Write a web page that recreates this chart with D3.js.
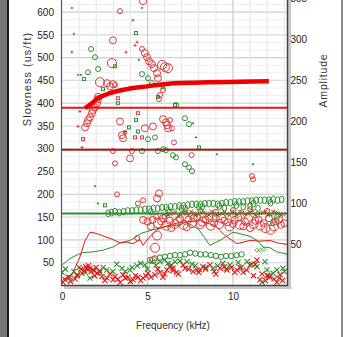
<!DOCTYPE html>
<html><head><meta charset="utf-8">
<script src="https://cdn.jsdelivr.net/npm/d3@7"></script>
<style>html,body{margin:0;padding:0;background:#fff;overflow:hidden}</style>
</head><body><svg id="c" width="343" height="337"></svg>
<script>
// ---------- DATA ----------
const xTicks = [0, 5, 10];
const slownessTicks = [50,100,150,200,250,300,350,400,450,500,550,600];
const amplitudeTicks = [50,100,150,200,250,300,350];

// model dispersion curve (kHz, us/ft)
const modelCurve = [[1.35,389],[1.75,400],[2.1,411],[2.8,422],[3.8,431],[5.0,437],[6.6,444],[8.65,446],[10.4,447],[12.1,448]];
// reference slowness lines (us/ft)
const redLine = 390;
const darkRedLine = 298;
const greenLine = 158;

// slowness picks: [kHz, us/ft, weight]
const redCirclesSlow = [[3.39,602,1],[4.74,624,2],[2.98,538,2],[2.92,488,3],
 [4.68,519,1],[4.85,510,2],[4.97,501,2],[5.09,492,2],[5.26,486,2],[5.38,477,2],[5.56,466,2],[5.61,455,2],
 [5.85,484,3],[6.02,479,3],[6.20,477,3],
 [2.22,446,3],[2.63,444,2],[2.81,437,2],[2.98,442,2],[3.10,440,1],[2.11,414,2],
 [5.91,429,1],[5.73,418,1],[5.67,409,1],
 [1.35,347,2],[1.46,356,2],[1.52,363,2],[1.64,369,2],[1.75,378,2],[1.81,385,2],[1.93,391,2],[2.05,400,2],[2.11,409,2],
 [3.39,360,2],[3.51,330,2],[3.57,323,2],[4.85,345,2],[5.32,349,2],
 [5.91,365,2],[6.08,358,2],[6.14,352,2],[6.20,345,2],[6.32,363,1],[6.43,345,1],[6.55,314,1],
 [2.98,295,1],[4.09,295,1],[3.10,268,1],[3.98,279,2],[7.58,286,1],[11.11,240,1],[11.17,233,1],
 [3.22,200,1],[5.67,202,2],[5.56,191,2],[4.44,180,1],[4.74,187,1]];
const redPlusSlow = [[0.58,512],[4.15,582],[4.39,534],[4.27,527],[3.74,512],[1.05,382],[0.94,349],[1.17,303]];
const redSquaresSlow = [[1.23,321],[4.44,378],[4.27,325],[4.68,325],[3.68,336],[3.27,411]];
const greenPlusSlow = [[0.58,609],[0.70,552],[4.68,609],[4.50,495],[3.68,338],[1.93,218],[7.66,356],[7.84,325],[9.06,288],[11.17,266],[2.11,180],[0.94,462],[1.11,462]];
const greenCirclesSlow = [[1.70,519],[1.93,501],[2.11,475],[1.52,468],[4.68,464],[5.03,455],[5.26,444],[6.67,396],
 [5.03,321],[5.44,325],[4.68,295],[5.61,295],[5.91,299],[6.08,297],[6.49,286],[7.19,367],[7.43,354],
 [6.67,281],[7.19,266],[7.43,259],[7.60,251]];
const greenSquaresSlow = [[4.33,554],[3.10,481],[1.29,453],[2.40,431],[5.91,435],[5.61,414],[3.27,400],[4.33,363],
 [3.92,347],[4.44,338],[6.61,396],[8.01,303],[2.51,176]];

// amplitude curves (kHz, amplitude)
const ampGreenCurve = [[0,25],[0.47,33],[1.17,40],[1.81,41],[2.40,43],[2.98,47],[3.39,52],[3.98,55],[4.68,64],[5.32,68],[5.91,71],[6.61,73],[7.31,77],[8.01,68],[8.65,49],[9.24,55],[10.0,65],[10.23,64],[11.0,60],[11.4,55],[11.75,47],[12.16,46],[12.57,41],[13.2,38]];
const ampRedCurve = [[0,6],[0.6,14],[1.05,35],[1.35,55],[1.64,65],[1.9,64],[2.22,62],[2.98,56],[3.39,52],[3.80,53],[4.15,51],[4.56,56],[4.74,49],[5.15,60],[5.56,68],[6.02,72],[6.9,77],[8.07,79],[8.95,73],[9.53,61],[10.23,51],[11.0,55],[11.58,54],[12.16,55],[12.57,52],[13.2,50]];
// amplitude picks
const greenCirclesAmpHigh = [[2.7,88],[2.9,89],[3.1,90],[3.35,89],[3.6,90],[3.85,91],[4.1,91],[4.35,92],[4.6,92],[4.85,93],[5.1,93],[5.35,94],[5.6,94],[5.85,95],[6.1,95],[6.35,96],[6.6,96],[6.85,97],[7.1,97],[7.35,98],[7.6,99],[7.85,99],[8.1,99],[8.35,100],[8.6,100],[8.85,100],[9.1,99],[9.35,100],[9.6,101],[9.85,101],[10.1,102],[10.35,102],[10.6,102],[10.85,103],[11.1,103],[11.35,104],[11.6,104],[11.85,104],[12.1,104],[12.35,105],[12.6,104],[12.85,105],
 [12.57,83],[12.34,77],[11.46,94],[10.6,96],[11.0,97],[9.5,95],[8.0,96],[7.0,94],
 [5.2,90],[6.2,92],[7.2,94],[8.2,96],[9.2,97],[10.2,98],[11.2,100],[12.2,101]];
const greenCirclesAmpLow = [[5.15,31],[5.44,33],[5.73,34],[6.02,35],[6.32,36],[6.61,37],[6.9,37],[7.2,38],[7.49,40],[7.8,39],[8.1,38],[8.4,38],[8.7,37],[9.0,36],[9.3,35],[9.6,36],[9.9,36],[10.2,37],[10.5,38]];
const greenDiamondsAmp = [[11.4,43],[11.6,43],[11.8,44]];
const redCirclesAmp = [[4.74,80,2],[5.0,78,2],[5.3,80,2],[5.6,76,3],[5.9,82,2],[6.1,73,3],[6.3,79,2],[6.6,75,3],[6.9,81,2],[7.1,74,3],[7.4,80,2],[7.6,76,3],[7.9,83,2],[8.1,75,3],[8.4,80,2],[8.7,73,3],[9.0,82,2],[9.2,75,3],[9.5,79,2],[9.8,72,3],[10.1,80,2],[10.4,74,3],[10.7,78,2],[11.0,70,2],[11.3,79,2],[11.6,73,3],[11.9,70,3],[12.2,68,3],[12.5,78,2],[12.8,74,2],
 [6.3,90,1],[7.2,89,1],[8.1,91,1],[9.0,90,1],[10.0,92,1],[11.0,93,1],[12.0,91,1],
 [5.56,61,3],[5.44,46,3],[5.32,31,2],[4.4,58,1],
 [6.0,84,1],[6.4,70,2],[6.8,78,3],[7.3,71,2],[7.7,82,2],[8.2,78,3],[8.6,84,2],[8.9,76,2],[9.3,82,3],[9.7,77,2],[10.0,75,2],[10.3,83,2],[10.6,72,2],[10.9,81,3],[11.2,75,3],[11.5,80,2],[11.8,76,2],[12.1,82,2],[12.4,72,3],[12.7,80,2],[13.0,76,2],[5.2,72,2],[5.5,84,1],[5.8,78,2]];
const redPlusAmp = [[6.2,86],[6.5,88],[6.8,85],[7.1,89],[7.4,86],[7.7,88],[8.0,87],[8.3,89],[8.6,86],[8.9,88],[9.2,87],[9.5,89],[9.8,86],[10.1,88],[10.4,90],[10.7,87],[11.0,89],[11.3,86],[11.6,88],[11.9,90],[12.2,87],[12.5,89],[12.8,86],
 [6.35,87],[6.65,89],[6.95,87],[7.25,88],[7.55,90],[7.85,86],[8.15,89],[8.45,87],[8.75,90],[9.05,86],[9.35,88],[9.65,87],[9.95,90],[10.25,86],[10.55,89],[10.85,88],[11.15,91],[11.45,87],[11.75,89],[12.05,86],[12.35,90],[12.65,88],[12.95,87]];
const redXAmp = [[0.06,4],[0.35,10],[0.76,8],[1.17,15],[1.46,20],[1.64,21],[1.81,19],[2.05,15],[2.34,11],[2.63,9],[2.98,7],[3.27,8],[3.57,13],[3.86,10],[4.15,7],[4.44,10],[4.74,9],[5.03,15],[5.44,13],[5.73,16],[6.14,19],[6.49,18],
 [6.49,21],[7.08,25],[7.66,17],[8.25,23],[8.65,25],[9.24,21],[9.65,19],[10.23,19],[10.99,25],[11.40,31],[11.58,7],[12.16,10],[12.57,4],[12.75,13],
 [1.3,18],[1.55,24],[1.9,12],[2.5,6],[3.1,11],[4.0,5],[4.9,12],[5.9,10],[6.8,14],[7.4,20],[8.0,16],[9.0,14],[9.9,22],[10.6,16],[11.2,12],[11.9,6],
 [0.2,7],[0.5,5],[0.9,12],[1.1,20],[1.4,23],[1.7,17],[2.0,22],[2.2,18],[2.8,14],[3.4,4],[3.7,9],[4.3,12],[4.6,6],[5.2,10],[5.6,20],[6.0,14],[6.3,23],[6.7,16],[7.2,21],[7.9,19],[8.4,20],[8.9,17],[9.5,23],[10.1,16],[10.4,22],[10.8,19],[11.3,26],[11.7,14],[12.0,12],[12.4,8],[12.9,6]];
const greenXAmp = [[0,16],[0.47,10],[0.88,13],[1.35,16],[1.64,9],[2.22,16],[2.63,19],[2.98,17],[3.51,21],[3.98,19],[4.39,24],[4.85,25],[5.26,29],[5.73,29],[6.20,27],[6.61,29],
 [7.31,29],[8.07,19],[8.83,21],[9.82,25],[10.82,29],[11.40,23],[11.99,19],[12.57,19],[12.92,21],[11.87,29],[12.34,15],[11.7,4],[3.2,26],[5.0,20],[7.8,24],[9.4,27],
 [0.2,20],[0.7,17],[1.0,22],[1.9,18],[2.4,22],[3.7,17],[4.1,22],[4.6,27],[5.5,25],[6.0,31],[6.4,25],[6.9,30],[7.6,26],[8.4,22],[9.1,24],[9.6,20],[10.3,28],[10.5,22],[11.1,26],[12.1,12],[12.7,9],[13.0,17]];

// ---------- LAYOUT ----------
const svg = d3.select('#c');
const X0 = 62, X1 = 287.5, Y0 = 285.5;
const x = d3.scaleLinear().domain([0, 13.2]).range([X0, X0 + 13.2 * 17.1]);
const yS = d3.scaleLinear().domain([0, 650]).range([Y0, Y0 - 650 * 0.4557]);
const yA = d3.scaleLinear().domain([0, 350]).range([Y0, Y0 - 350 * 0.82]);
const rS = d3.scaleLinear().domain([1, 3]).range([2.5, 4.5]);

const RED = '#e01818', PINK = '#dd3a3a', GREEN = '#2d8f2d', DKRED = '#a51c1c';

svg.append('rect').attr('width', 343).attr('height', 337).attr('fill', '#fff');
// window edges
svg.append('rect').attr('x', 0).attr('y', 0).attr('width', 7).attr('height', 337).attr('fill', '#777');
svg.append('rect').attr('x', 7).attr('y', 0).attr('width', 2).attr('height', 337).attr('fill', '#1c1c1c');
svg.append('rect').attr('x', 341).attr('y', 0).attr('width', 2).attr('height', 337).attr('fill', '#8c8c8c');

// grid
const grid = svg.append('g');
const minorH = d3.range(0, 650, 50 / 3);
grid.selectAll('.mh').data(minorH).join('line')
  .attr('x1', X0).attr('x2', X1).attr('y1', d => yS(d)).attr('y2', d => yS(d))
  .attr('stroke', '#eeeeee').attr('stroke-width', 1);
grid.selectAll('.Mh').data(d3.range(50, 650, 50)).join('line')
  .attr('x1', X0).attr('x2', X1).attr('y1', d => yS(d)).attr('y2', d => yS(d))
  .attr('stroke', d => d % 100 === 0 ? '#d2d2d2' : '#dcdcdc').attr('stroke-width', 1.2);
grid.selectAll('.v').data(d3.range(1, 14)).join('line')
  .attr('x1', d => x(d)).attr('x2', d => x(d)).attr('y1', 0).attr('y2', Y0)
  .attr('stroke', d => d % 5 === 0 ? '#d0d0d0' : '#e6e6e6').attr('stroke-width', d => d % 5 === 0 ? 1.4 : 1);

// clip
svg.append('clipPath').attr('id', 'clip').append('rect').attr('x', X0).attr('y', 0).attr('width', X1 - X0).attr('height', Y0);
const plot = svg.append('g').attr('clip-path', 'url(#clip)');

function circles(data, ys, color, rf) {
  plot.append('g').selectAll('circle').data(data).join('circle')
    .attr('cx', d => x(d[0])).attr('cy', d => ys(d[1])).attr('r', rf)
    .attr('fill', 'none').attr('stroke', color).attr('stroke-width', 1);
}
function ellipses(data, ys, color) {
  plot.append('g').selectAll('ellipse').data(data).join('ellipse')
    .attr('cx', d => x(d[0])).attr('cy', d => ys(d[1])).attr('rx', 2.3).attr('ry', 3.4)
    .attr('fill', 'none').attr('stroke', color).attr('stroke-width', 1);
}
function squares(data, ys, color) {
  plot.append('g').selectAll('rect').data(data).join('rect')
    .attr('x', d => x(d[0]) - 1.5).attr('y', d => ys(d[1]) - 1.5).attr('width', 3).attr('height', 3)
    .attr('fill', 'none').attr('stroke', color).attr('stroke-width', 1);
}
function plus(data, ys, color, s) {
  plot.append('g').selectAll('path').data(data).join('path')
    .attr('d', d => { const cx = x(d[0]), cy = ys(d[1]); return `M${cx - s},${cy}H${cx + s}M${cx},${cy - s}V${cy + s}`; })
    .attr('stroke', color).attr('stroke-width', 1).attr('fill', 'none');
}
function crosses(data, ys, color, s, w) {
  plot.append('g').selectAll('path').data(data).join('path')
    .attr('d', d => { const cx = x(d[0]), cy = ys(d[1]); return `M${cx - s},${cy - s}L${cx + s},${cy + s}M${cx - s},${cy + s}L${cx + s},${cy - s}`; })
    .attr('stroke', color).attr('stroke-width', w || 1).attr('fill', 'none');
}
function diamonds(data, ys, color) {
  plot.append('g').selectAll('path').data(data).join('path')
    .attr('d', d => { const cx = x(d[0]), cy = ys(d[1]); return `M${cx - 2},${cy}L${cx},${cy - 2}L${cx + 2},${cy}L${cx},${cy + 2}Z`; })
    .attr('stroke', color).attr('stroke-width', 0.8).attr('fill', 'none');
}

// amplitude region
const line = ys => d3.line().x(d => x(d[0])).y(d => ys(d[1]));
crosses(greenXAmp, yA, GREEN, 2.6, 1.1);
crosses(redXAmp, yA, RED, 2.6, 1.1);
circles(greenCirclesAmpLow, yA, GREEN, 2.7);
diamonds(greenDiamondsAmp, yA, GREEN);
plot.append('path').datum(ampGreenCurve).attr('d', line(yA)).attr('fill', 'none').attr('stroke', GREEN).attr('stroke-width', 1);
plot.append('path').datum(ampRedCurve).attr('d', line(yA)).attr('fill', 'none').attr('stroke', RED).attr('stroke-width', 1);
circles(redCirclesAmp, yA, PINK, d => rS(d[2]));
crosses(redPlusAmp, yA, RED, 1.8, 1);
ellipses(greenCirclesAmpHigh, yA, GREEN);

// slowness region
circles(redCirclesSlow, yS, PINK, d => rS(d[2]));
plus(redPlusSlow, yS, PINK, 1.5);
squares(redSquaresSlow, yS, PINK);
plus(greenPlusSlow, yS, GREEN, 1.2);
circles(greenCirclesSlow, yS, GREEN, 2.5);
squares(greenSquaresSlow, yS, GREEN);

// reference lines
[[redLine, RED], [darkRedLine, DKRED], [greenLine, GREEN]].forEach(([v, c]) => {
  plot.append('line').attr('x1', X0).attr('x2', X1).attr('y1', yS(v)).attr('y2', yS(v)).attr('stroke', c).attr('stroke-width', 2);
});
// model curve
plot.append('path').datum(modelCurve).attr('d', d3.line().curve(d3.curveMonotoneX).x(d => x(d[0])).y(d => yS(d[1])))
  .attr('fill', 'none').attr('stroke', '#ee0000').attr('stroke-width', 4.5).attr('stroke-linecap', 'butt');

// frame with shadow
svg.append('rect').attr('x', X1 + 0.5).attr('y', 0).attr('width', 3).attr('height', Y0 + 3).attr('fill', '#c8c8c8');
svg.append('rect').attr('x', X0 + 2).attr('y', Y0 + 0.5).attr('width', X1 - X0 + 2).attr('height', 3).attr('fill', '#c8c8c8');
svg.append('line').attr('x1', X0 - 0.5).attr('x2', X0 - 0.5).attr('y1', 0).attr('y2', Y0).attr('stroke', '#555').attr('stroke-width', 1.2);
svg.append('line').attr('x1', X1).attr('x2', X1).attr('y1', 0).attr('y2', Y0).attr('stroke', '#444').attr('stroke-width', 1.5);
svg.append('line').attr('x1', X0 - 1).attr('x2', X1 + 0.75).attr('y1', Y0).attr('y2', Y0).attr('stroke', '#444').attr('stroke-width', 1.5);

// axes
const FONT = '"Liberation Sans", Arial, sans-serif';
function styleAxis(g) {
  g.select('.domain').remove();
  g.selectAll('text').attr('font-family', FONT).attr('font-size', 10).attr('fill', '#222');
}
svg.append('g').attr('transform', `translate(${X0},0)`)
  .call(d3.axisLeft(yS).tickValues(slownessTicks).tickSize(0).tickPadding(8)).call(styleAxis);
svg.append('g').attr('transform', `translate(${X1},0)`)
  .call(d3.axisRight(yA).tickValues(amplitudeTicks).tickSize(0).tickPadding(3)).call(styleAxis);
svg.append('g').attr('transform', `translate(0,${Y0})`)
  .call(d3.axisBottom(x).tickValues(xTicks).tickFormat(d3.format('d')).tickSize(0).tickPadding(7.5)).call(styleAxis);

// titles
svg.append('text').attr('transform', 'translate(31,79) rotate(-90)').attr('text-anchor', 'middle')
  .attr('font-family', FONT).attr('font-size', 11).attr('letter-spacing', 1).attr('fill', '#333').text('Slowness (us/ft)');
svg.append('text').attr('transform', 'translate(327,80.5) rotate(-90)').attr('text-anchor', 'middle')
  .attr('font-family', FONT).attr('font-size', 10.5).attr('letter-spacing', 0.8).attr('fill', '#333').text('Amplitude');
svg.append('text').attr('x', 173).attr('y', 328.5).attr('text-anchor', 'middle')
  .attr('font-family', FONT).attr('font-size', 10).attr('fill', '#333').text('Frequency (kHz)');
</script></body></html>
